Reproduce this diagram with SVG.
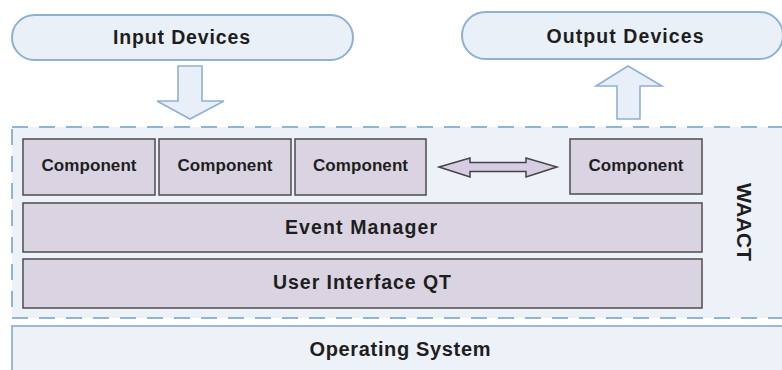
<svg xmlns="http://www.w3.org/2000/svg" width="782" height="370" viewBox="0 0 782 370">
  <style>
    .pill { fill: #EAF0F8; stroke: #8EB1D3; stroke-width: 2; }
    .block-arrow { fill: #E9EFF8; stroke: #8EB1D3; stroke-width: 1.6; stroke-linejoin: miter; }
    .frame { fill: #EDF1F8; stroke: #8FB4D4; stroke-width: 2; stroke-dasharray: 16 11; }
    .os { fill: #EDF1F8; stroke: #9CBAD7; stroke-width: 2; }
    .box { fill: #DAD4E2; stroke: #555555; stroke-width: 1.6; }
    .link { fill: #D6CDE4; stroke: #444444; stroke-width: 1.5; stroke-linejoin: miter; }
    text { font-family: "Liberation Sans", Arial, sans-serif; font-weight: bold; fill: #1E1E1E; text-anchor: middle; }
    .t-comp { font-size: 17px; }
    .t-layer { font-size: 19.5px; }
    .t-dev { font-size: 19.5px; }
    .t-os { font-size: 20px; }
    .t-side { font-size: 20px; }
  </style>

  <!-- Operating system base layer -->
  <g id="operating-system">
    <rect class="os" x="12" y="326" width="790" height="60"/>
    <text class="t-os" x="400" y="356" textLength="181" lengthAdjust="spacing">Operating System</text>
  </g>

  <!-- WAACT dashed container -->
  <g id="waact">
    <rect class="frame" x="12" y="127" width="790" height="191"/>
    <text class="t-side" transform="translate(737,222) rotate(90)" textLength="78" lengthAdjust="spacingAndGlyphs">WAACT</text>
  </g>

  <!-- External devices -->
  <g id="input-devices">
    <rect class="pill" x="12" y="15" width="341" height="45" rx="22.5"/>
    <text class="t-dev" x="181.5" y="44" textLength="137" lengthAdjust="spacing">Input Devices</text>
  </g>
  <g id="output-devices">
    <rect class="pill" x="462" y="12" width="321" height="47" rx="23.5"/>
    <text class="t-dev" x="625" y="43" textLength="157" lengthAdjust="spacing">Output Devices</text>
  </g>

  <!-- Components -->
  <g id="component-1">
    <rect class="box" x="23" y="139" width="132" height="56"/>
    <text class="t-comp" x="89" y="171" textLength="95" lengthAdjust="spacing">Component</text>
  </g>
  <g id="component-2">
    <rect class="box" x="159" y="139" width="132" height="56"/>
    <text class="t-comp" x="225" y="171" textLength="95" lengthAdjust="spacing">Component</text>
  </g>
  <g id="component-3">
    <rect class="box" x="295" y="139" width="131" height="56"/>
    <text class="t-comp" x="360.5" y="171" textLength="95" lengthAdjust="spacing">Component</text>
  </g>
  <g id="component-4">
    <rect class="box" x="570" y="139" width="132" height="55"/>
    <text class="t-comp" x="636" y="171" textLength="95" lengthAdjust="spacing">Component</text>
  </g>

  <!-- Layers -->
  <g id="event-manager">
    <rect class="box" x="23" y="203" width="679" height="49"/>
    <text class="t-layer" x="361" y="234" textLength="152" lengthAdjust="spacing">Event Manager</text>
  </g>
  <g id="user-interface-qt">
    <rect class="box" x="23" y="259" width="679" height="49"/>
    <text class="t-layer" x="362" y="289" textLength="178" lengthAdjust="spacing">User Interface QT</text>
  </g>

  <!-- Connectors -->
  <g id="connectors">
    <!-- input flows down into the framework -->
    <polygon class="block-arrow" points="178,66 202,66 202,101 224,101 190,119 157,101 178,101"/>
    <!-- framework output flows up -->
    <polygon class="block-arrow" points="628,66 662,86 640,86 640,119 617,119 617,86 596,86"/>
    <!-- two-way link between components -->
    <polygon class="link" points="439,167 470,158 470,162.5 526,162.5 526,158 557,167 526,177 526,171.5 470,171.5 470,177"/>
  </g>
</svg>
